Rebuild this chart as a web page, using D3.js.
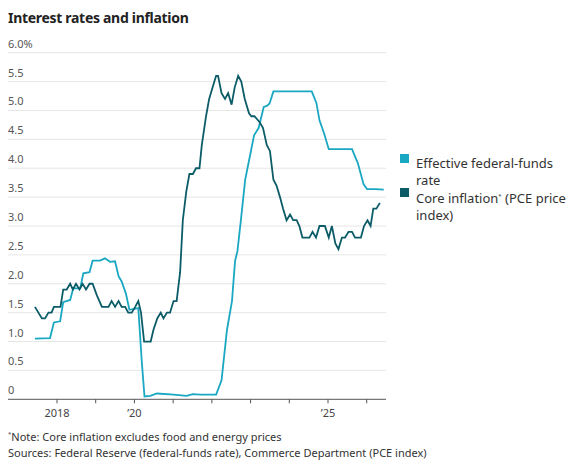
<!DOCTYPE html><html><head><meta charset="utf-8"><script src="https://cdn.jsdelivr.net/npm/d3@7"></script>
<style>body{margin:0;background:#fff;font-family:"Noto Sans",sans-serif}</style></head><body><svg id="c" width="576" height="472"></svg>
<script>
const fedYears=[2017.43,2017.82,2017.92,2018.08,2018.16,2018.34,2018.42,2018.6,2018.68,2018.84,2018.92,2019.11,2019.24,2019.37,2019.5,2019.59,2019.67,2019.78,2019.87,2020.1,2020.19,2020.26,2020.41,2020.58,2021.01,2021.35,2021.51,2021.7,2022.11,2022.25,2022.39,2022.52,2022.6,2022.66,2022.75,2022.86,2022.95,2023.09,2023.21,2023.34,2023.42,2023.49,2023.59,2024.58,2024.7,2024.78,2024.9,2025.02,2025.62,2025.77,2025.92,2026.01,2026.22,2026.44];
const fedValues=[1.05,1.06,1.33,1.35,1.68,1.72,1.92,1.92,2.18,2.2,2.4,2.4,2.44,2.38,2.39,2.13,2.04,1.83,1.55,1.58,0.65,0.05,0.06,0.1,0.08,0.06,0.09,0.08,0.08,0.33,1.2,1.7,2.4,2.56,3.1,3.8,4.1,4.57,4.7,5.06,5.08,5.12,5.33,5.33,5.13,4.83,4.6,4.33,4.33,4.09,3.72,3.64,3.64,3.63];
const coreYears=[2017.43,2017.61,2017.69,2017.78,2017.86,2017.92,2018.09,2018.16,2018.25,2018.34,2018.41,2018.49,2018.58,2018.66,2018.75,2018.84,2018.92,2019.03,2019.16,2019.33,2019.41,2019.5,2019.59,2019.67,2019.76,2019.84,2019.93,2020.02,2020.1,2020.17,2020.25,2020.42,2020.49,2020.59,2020.68,2020.75,2020.84,2020.92,2021.01,2021.09,2021.18,2021.25,2021.34,2021.42,2021.51,2021.59,2021.68,2021.74,2021.85,2021.93,2022.02,2022.11,2022.16,2022.25,2022.34,2022.42,2022.51,2022.59,2022.68,2022.76,2022.85,2022.96,2023.02,2023.1,2023.23,2023.32,2023.42,2023.5,2023.59,2023.67,2023.76,2023.84,2023.93,2024.02,2024.1,2024.19,2024.26,2024.34,2024.52,2024.6,2024.69,2024.78,2024.92,2025.02,2025.1,2025.19,2025.27,2025.36,2025.44,2025.53,2025.62,2025.7,2025.85,2025.93,2026.02,2026.1,2026.17,2026.25,2026.34];
const coreValues=[1.6,1.4,1.4,1.5,1.5,1.6,1.6,1.9,1.9,2.0,1.9,2.0,1.9,2.0,1.9,2.0,2.0,1.8,1.6,1.6,1.7,1.6,1.7,1.6,1.6,1.5,1.5,1.6,1.7,1.5,1.0,1.0,1.2,1.4,1.5,1.4,1.5,1.5,1.7,1.7,2.2,3.1,3.6,3.9,3.9,4.0,4.0,4.4,4.9,5.2,5.4,5.6,5.6,5.3,5.2,5.3,5.1,5.4,5.6,5.5,5.2,4.95,4.9,4.9,4.8,4.7,4.4,4.3,3.8,3.7,3.5,3.3,3.1,3.2,3.1,3.1,3.0,2.8,2.8,2.9,2.8,3.0,3.0,2.8,3.0,2.7,2.6,2.8,2.8,2.9,2.9,2.8,2.8,3.0,3.1,3.0,3.3,3.3,3.4];
const yTicks=[0,0.5,1,1.5,2,2.5,3,3.5,4,4.5,5,5.5,6];
const yLabels=["0","0.5","1.0","1.5","2.0","2.5","3.0","3.5","4.0","4.5","5.0","5.5","6.0%"];
const xTicks=[2018,2019,2020,2021,2022,2023,2024,2025,2026];
const xLabels={2018:"2018",2020:"’20",2025:"’25"};
const colors=["#1aa7c2","#0c5c68"];

const svg=d3.select("#c");
const x=d3.scaleLinear().domain([2018,2025]).range([57,328]);
const y=d3.scaleLinear().domain([0,6]).range([399.3,52.7]);
const L=8,R=386;
svg.append("text").attr("x",8).attr("y",23).attr("font-size",14).attr("font-weight",700).attr("fill","#222").attr("letter-spacing",-0.3).text("Interest rates and inflation");
yTicks.forEach((t,i)=>{
  if(t>0)svg.append("line").attr("x1",L).attr("x2",R).attr("y1",y(t)).attr("y2",y(t)).attr("stroke","#e6e6e6").attr("stroke-width",1);
  svg.append("text").attr("x",L).attr("y",y(t)-5).attr("font-size",11).attr("fill","#555").text(yLabels[i]);
});
svg.append("line").attr("x1",L).attr("x2",R).attr("y1",y(0)).attr("y2",y(0)).attr("stroke","#555");
xTicks.forEach(t=>{
  svg.append("line").attr("x1",x(t)).attr("x2",x(t)).attr("y1",y(0)).attr("y2",y(0)+4).attr("stroke","#555");
  if(xLabels[t])svg.append("text").attr("x",x(t)).attr("y",y(0)+18).attr("text-anchor","middle").attr("font-size",11).attr("fill","#444").text(xLabels[t]);
});
const line=d3.line().x(d=>x(d[0])).y(d=>y(d[1]));
svg.append("path").datum(fedYears.map((v,i)=>[v,fedValues[i]])).attr("d",line).attr("fill","none").attr("stroke",colors[0]).attr("stroke-width",1.8);
svg.append("path").datum(coreYears.map((v,i)=>[v,coreValues[i]])).attr("d",line).attr("fill","none").attr("stroke",colors[1]).attr("stroke-width",1.8);
[163,197].forEach((yy,i)=>{
  svg.append("rect").attr("x",400).attr("y",yy-9).attr("width",9).attr("height",9).attr("fill",colors[i]);
});
const t1=svg.append("text").attr("font-size",13).attr("fill","#333");
t1.append("tspan").attr("x",416).attr("y",168).text("Effective federal-funds");
t1.append("tspan").attr("x",416).attr("y",185).text("rate");
const t2=svg.append("text").attr("font-size",13).attr("fill","#333");
t2.append("tspan").attr("x",416).attr("y",203).text("Core inflation");
t2.append("tspan").attr("font-size",6).attr("dy",-5).text("*");
t2.append("tspan").attr("dy",5).text(" (PCE price");
t2.append("tspan").attr("x",416).attr("y",220).text("index)");
const f=svg.append("text").attr("font-size",11).attr("fill","#333");
f.append("tspan").attr("x",8).attr("y",436).attr("font-size",6).text("*");
f.append("tspan").attr("y",441).text("Note: Core inflation excludes food and energy prices");
svg.append("text").attr("x",8).attr("y",457).attr("font-size",11).attr("fill","#333").text("Sources: Federal Reserve (federal-funds rate), Commerce Department (PCE index)");
</script></body></html>
